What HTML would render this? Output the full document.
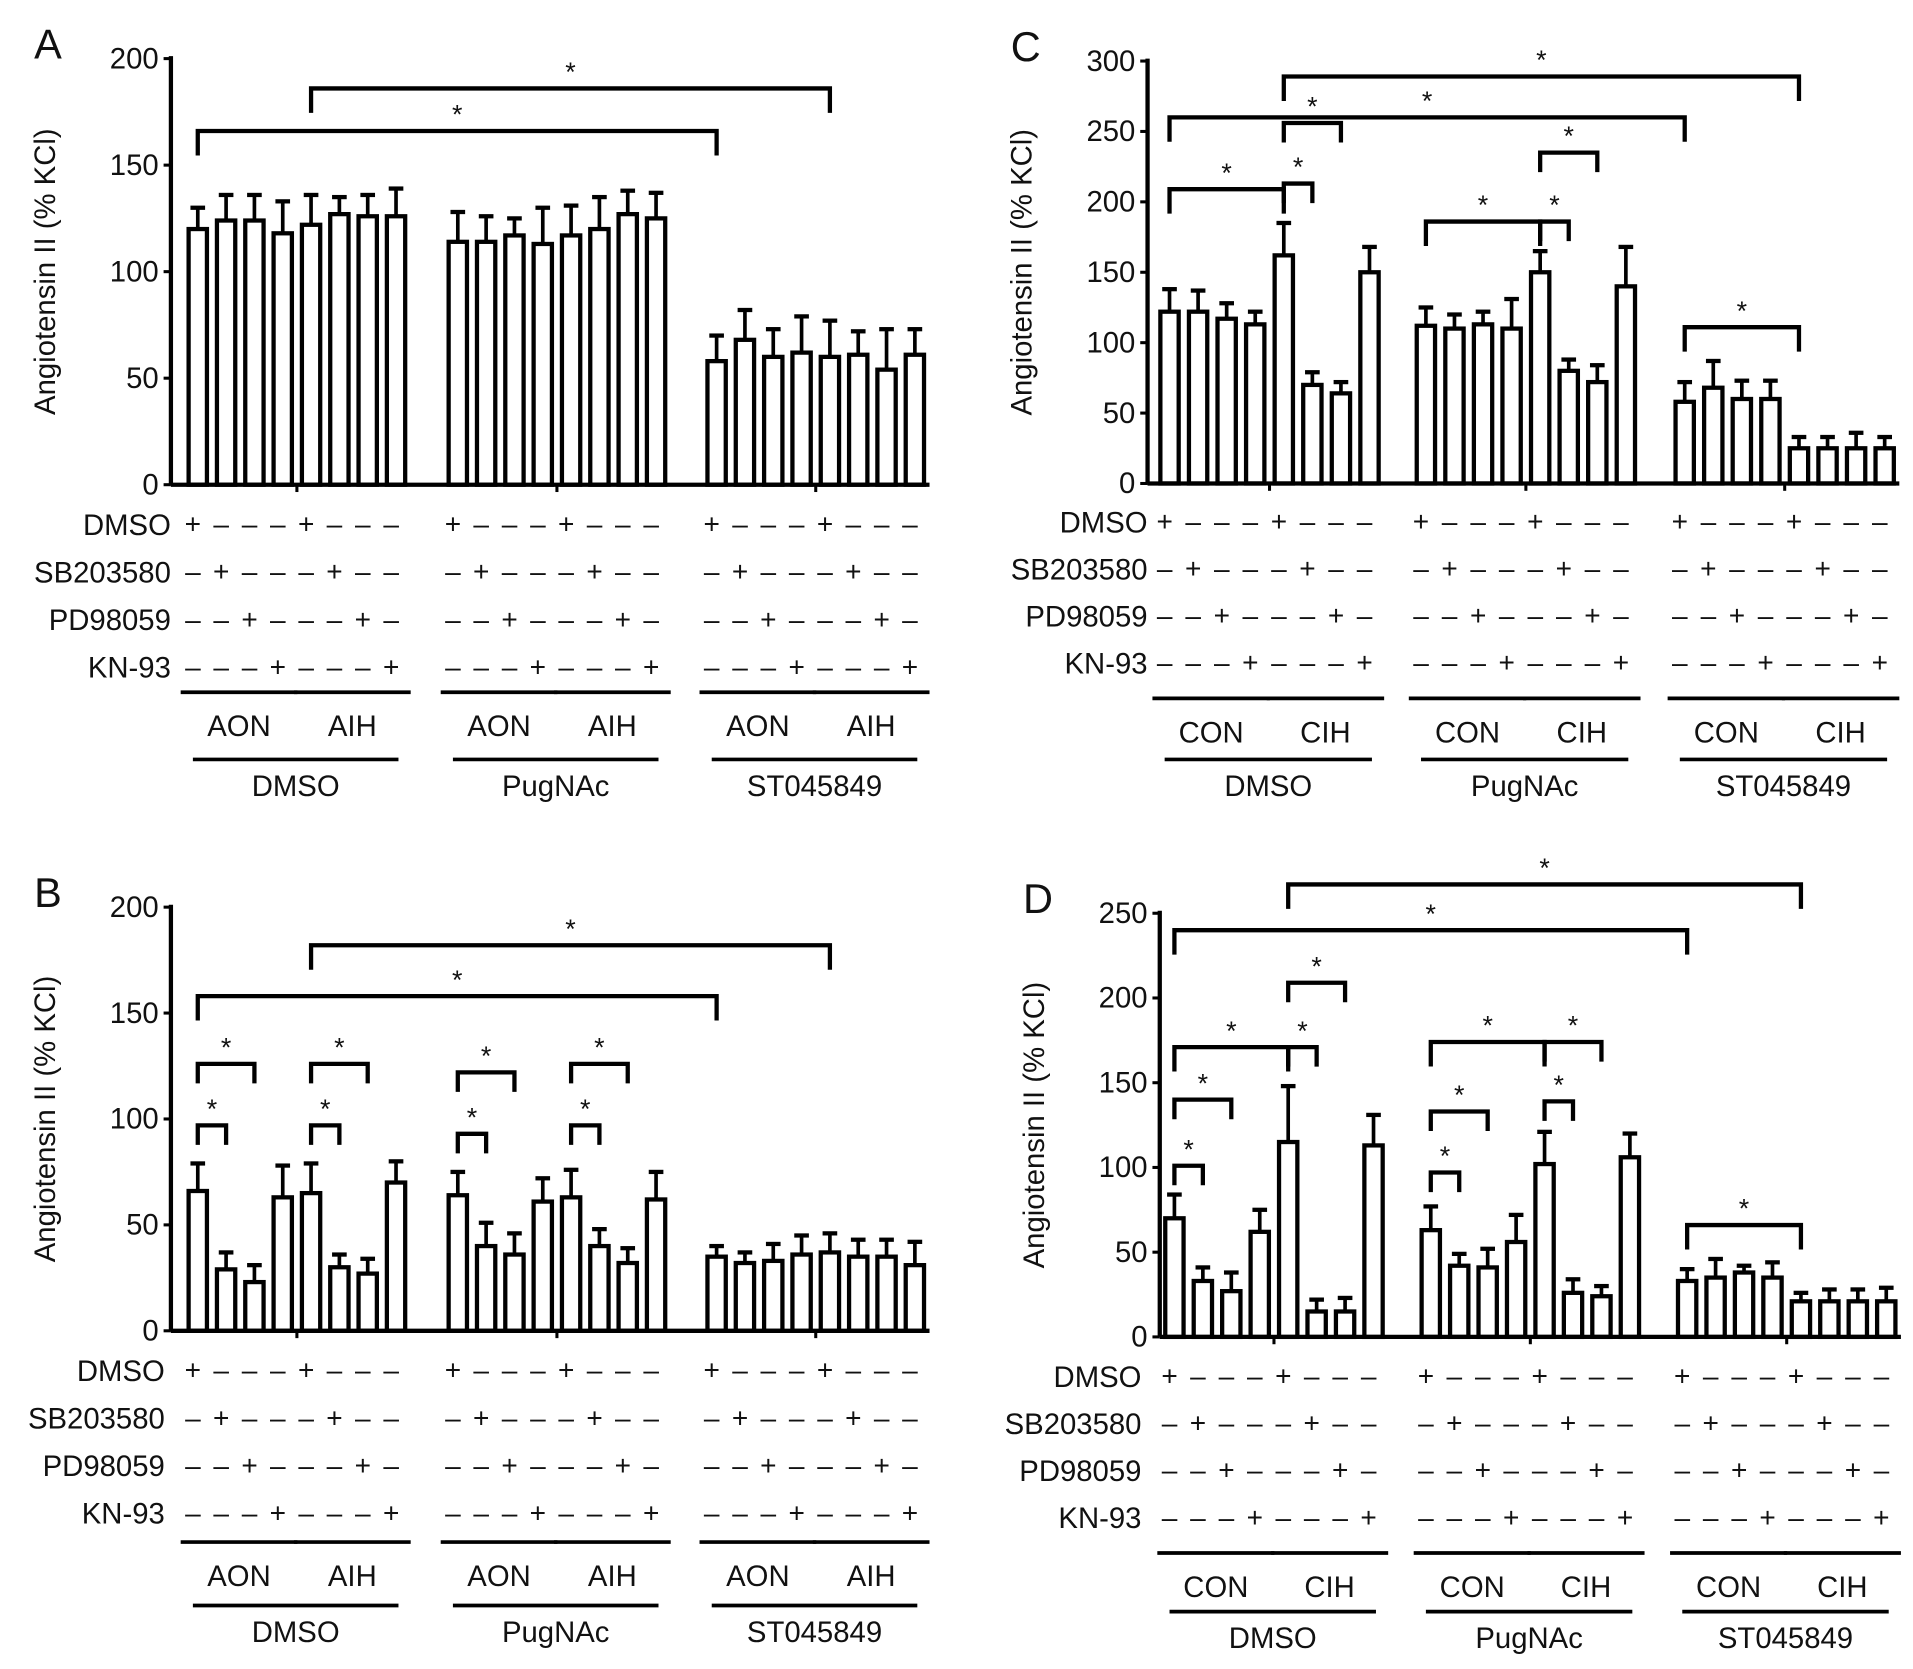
<!DOCTYPE html>
<html><head><meta charset="utf-8"><style>
html,body{margin:0;padding:0;background:#fff;}
svg{display:block;font-family:"Liberation Sans",Arial,sans-serif;}
</style></head><body>
<svg id="fig" width="1913" height="1669" viewBox="0 0 1567 1367" preserveAspectRatio="none" xmlns="http://www.w3.org/2000/svg"></svg>
<script>
// ---- data ----
const aValues=[120,124,124,118,122,127,126,126,114,114,117,113,117,120,127,125,58,68,60,62,60,61,54,61];
const aErrors=[10,12,12,15,14,8,10,13,14,12,8,17,14,15,11,12,12,14,13,17,17,11,19,12];
const bValues=[66,29,23,63,65,30,27,70,64,40,36,61,63,40,32,62,35,32,33,36,37,35,35,31];
const bErrors=[13,8,8,15,14,6,7,10,11,11,10,11,13,8,7,13,5,5,8,9,9,8,8,11];
const cValues=[122,122,117,113,162,70,64,150,112,110,113,110,150,80,72,140,58,68,60,60,25,25,25,25];
const cErrors=[16,15,11,9,23,9,8,18,13,10,9,21,15,8,12,28,14,19,13,13,8,8,11,8];
const dValues=[70,33,27,62,115,15,15,113,63,42,41,56,102,26,24,106,33,35,38,35,21,21,21,21];
const dErrors=[14,8,11,13,33,7,8,18,14,7,11,16,19,8,6,14,7,11,4,9,5,7,7,8];
const aTicks=[0,50,100,150,200];
const bTicks=[0,50,100,150,200];
const cTicks=[0,50,100,150,200,250,300];
const dTicks=[0,50,100,150,200,250];
const aBrackets=[[4,20,186],[0,16,166]];
const bBrackets=[[4,20,182],[0,16,158],[0,1,97],[0,2,126],[4,5,97],[4,6,126],[8,9,93],[8,10,122],[12,13,97],[12,14,126]];
const cBrackets=[[4,20,289],[0,16,260],[4,6,256],[4,5,213],[0,4,209],[8,12,186],[12,13,186],[12,14,235],[16,20,111]];
const dBrackets=[[4,20,267],[0,16,240],[0,4,171],[4,5,171],[4,6,209],[0,1,101],[0,2,140],[8,12,174],[12,14,174],[12,13,139],[8,9,97],[8,10,133],[16,20,66]];
const rowLabels=["DMSO","SB203580","PD98059","KN-93"];
const groupLabels=["DMSO","PugNAc","ST045849"];
// ---- drawing ----
const NS="http://www.w3.org/2000/svg";
const svg=document.getElementById('fig');
function mk(tag,attrs,parent){const e=document.createElementNS(NS,tag);for(const k in attrs)e.setAttribute(k,attrs[k]);(parent||svg).appendChild(e);return e;}
function txt(x,y,s,size,anchor,parent){const t=mk('text',{x:x,y:y,'font-size':size,'text-anchor':anchor||'middle',fill:'#111'},parent);t.textContent=s;return t;}

function panel(cfg){
  const g=mk('g',{});
  
  
  const yS=v=>cfg.y0-(v/cfg.max)*(cfg.y0-cfg.yTop);
  const xS=i=>cfg.gStarts[Math.floor(i/8)]+(i%8)*cfg.step;
  const L=txt(cfg.ax-112,cfg.yTop,cfg.letter,34,'start',g);
  
  
  const ya=mk('line',{x1:cfg.ax,y1:cfg.yTop-2,x2:cfg.ax,y2:cfg.y0,stroke:'#000','stroke-width':3.5},g);
  
  
  cfg.ticks.forEach(t=>{
    mk('line',{x1:cfg.ax-6,y1:yS(t),x2:cfg.ax,y2:yS(t),stroke:'#000','stroke-width':2.5},g);
    const tl=txt(cfg.ax-10,yS(t)+8,String(t),24,'end',g);
    
    
  });
  const tt=txt(0,0,'Angiotensin II (% KCl)',24,'middle',g);
  tt.setAttribute('transform','translate('+(cfg.ax-95)+','+((cfg.yTop+cfg.y0)/2)+') rotate(-90)');
  
  
  cfg.values.forEach((v,i)=>{
    const x=xS(i),w=15,yt=yS(v),ye=yS(v+cfg.errors[i]);
    mk('line',{x1:x,y1:yt,x2:x,y2:ye,stroke:'#000','stroke-width':3},g);
    mk('line',{x1:x-6,y1:ye,x2:x+6,y2:ye,stroke:'#000','stroke-width':3.5},g);
    const r=mk('rect',{x:x-w/2,y:yt,width:w,height:cfg.y0-yt,fill:'#fff',stroke:'#000','stroke-width':3.5},g);
    
    
  });
  const xa=mk('line',{x1:cfg.ax,y1:cfg.y0,x2:xS(23)+12,y2:cfg.y0,stroke:'#000','stroke-width':3.5},g);
  
  
  for(let k=0;k<3;k++){const cx=(xS(k*8+3)+xS(k*8+4))/2;mk('line',{x1:cx,y1:cfg.y0,x2:cx,y2:cfg.y0+6,stroke:'#000','stroke-width':2.5},g);}
  cfg.brackets.forEach(b=>{
    const x1=xS(b[0]),x2=xS(b[1]),y=yS(b[2]);
    const leg=(b[1]-b[0]>2)?20:16;
    const p=mk('path',{d:'M'+x1+' '+(y+leg)+' V'+y+' H'+x2+' V'+(y+leg),fill:'none',stroke:'#000','stroke-width':3.5},g);
    
    
    const s=txt((x1+x2)/2,y-6,'*',22,'middle',g);
    
    
  });
  rowLabels.forEach((lab,r)=>{
    const ry=cfg.rowY+r*cfg.rowGap;
    const rl=txt(cfg.labelX,ry+8,lab,24,'end',g);
    
    
    for(let i=0;i<24;i++){
      const s=txt(xS(i)-4,ry+7,(i%4===r)?'+':'\u2013',23,'middle',g);
      
      
    }
  });
  for(let k=0;k<6;k++){
    const a=xS(k*4)-14,b=xS(k*4+3)+12;
    mk('line',{x1:a,y1:cfg.line1,x2:b,y2:cfg.line1,stroke:'#000','stroke-width':3},g);
    const sl=txt((a+b)/2,cfg.line1+36,cfg.sub[k%2],24,'middle',g);
    
    
  }
  for(let k=0;k<3;k++){
    const a=xS(k*8)-4,b=xS(k*8+7)+2;
    mk('line',{x1:a,y1:cfg.line2,x2:b,y2:cfg.line2,stroke:'#000','stroke-width':3},g);
    const gl=txt((a+b)/2,cfg.line2+30,groupLabels[k],24,'middle',g);
    
    
  }
}
panel({letter:'A',ax:140,labelX:140,yTop:48,y0:397,max:200,ticks:aTicks,values:aValues,errors:aErrors,brackets:aBrackets,gStarts:[162,375,587],step:23.2,rowY:430,rowGap:39,line1:567,line2:622,sub:['AON','AIH']});
panel({letter:'B',ax:140,labelX:135,yTop:743,y0:1090,max:200,ticks:bTicks,values:bValues,errors:bErrors,brackets:bBrackets,gStarts:[162,375,587],step:23.2,rowY:1123,rowGap:39,line1:1263,line2:1315,sub:['AON','AIH']});
panel({letter:'C',ax:940,labelX:940,yTop:50,y0:396,max:300,ticks:cTicks,values:cValues,errors:cErrors,brackets:cBrackets,gStarts:[958,1168,1380],step:23.4,rowY:428,rowGap:38.5,line1:572,line2:622,sub:['CON','CIH']});
panel({letter:'D',ax:950,labelX:935,yTop:748,y0:1095,max:250,ticks:dTicks,values:dValues,errors:dErrors,brackets:dBrackets,gStarts:[962,1172,1382],step:23.3,rowY:1128,rowGap:38.5,line1:1272,line2:1320,sub:['CON','CIH']});
</script>
</body></html>
